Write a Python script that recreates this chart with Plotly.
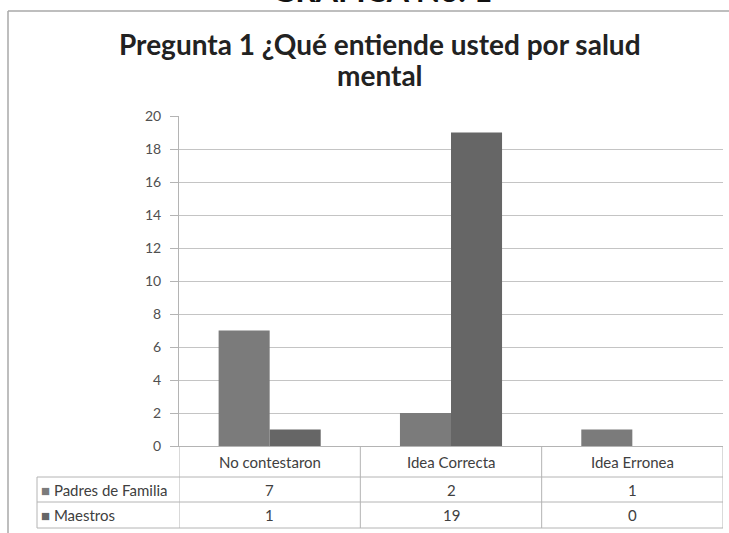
import plotly.graph_objects as go

# Survey answers, question 1
categorias = ["No contestaron", "Idea Correcta", "Idea Erronea"]
padres = [7, 2, 1]
maestros = [1, 19, 0]
series_nombres = ["Padres de Familia", "Maestros"]
y_ticks = list(range(0, 21, 2))
titulo = ["Pregunta 1 ¿Qué entiende usted por salud", "mental"]
encabezado = "GRAFICA No. 1"

color_padres = "#7b7b7b"
color_maestros = "#666666"
color_linea = "#b4b4b4"
color_texto = "#404040"
fuente = "Lato"

W, H = 729, 533
L, R, T, B = 179, 6, 116, 87
plot_h = H - T - B
plot_w = W - L - R


def py(px):
    """Pixel row -> paper y for elements drawn outside the plot area."""
    return (H - B - px) / plot_h


def px_x(px):
    return (px - L) / plot_w


fig = go.Figure()
fig.add_trace(go.Bar(x=categorias, y=padres, name=series_nombres[0],
                     marker=dict(color=color_padres, line=dict(width=0))))
fig.add_trace(go.Bar(x=categorias, y=maestros, name=series_nombres[1],
                     marker=dict(color=color_maestros, line=dict(width=0))))

shapes = []
annotations = []

# data table under the chart
row_edges = [446, 477, 502, 528]
left_edge = px_x(37)
n = len(categorias)
bounds = [i - 0.5 for i in range(n + 1)]

# horizontal rules of the table
for yy in row_edges[1:]:
    shapes.append(dict(type="line", xref="paper", yref="paper",
                       x0=left_edge, x1=1.0, y0=py(yy), y1=py(yy),
                       line=dict(color=color_linea, width=1)))
# vertical rules
for b in bounds:
    shapes.append(dict(type="line", xref="x", yref="paper",
                       x0=b, x1=b, y0=py(row_edges[0]), y1=py(row_edges[-1]),
                       line=dict(color=color_linea, width=1)))
shapes.append(dict(type="line", xref="paper", yref="paper",
                   x0=left_edge, x1=left_edge, y0=py(row_edges[1]), y1=py(row_edges[-1]),
                   line=dict(color=color_linea, width=1)))

# outer frame of the chart object (top and left edges are in view)
shapes.append(dict(type="line", xref="paper", yref="paper",
                   x0=px_x(8), x1=px_x(740), y0=py(11), y1=py(11),
                   line=dict(color="#a8a8a8", width=1.5), layer="below"))
shapes.append(dict(type="line", xref="paper", yref="paper",
                   x0=px_x(8), x1=px_x(8), y0=py(11), y1=py(540),
                   line=dict(color="#a8a8a8", width=1.5), layer="below"))

# header row: category names
for c in categorias:
    annotations.append(dict(x=c, xref="x", y=py((row_edges[0] + row_edges[1]) / 2), yref="paper",
                            text=c, showarrow=False, xanchor="center", yanchor="middle",
                            font=dict(family=fuente, size=15, color=color_texto)))

# value rows with their legend keys
for r, (nombre, vals, col) in enumerate(zip(series_nombres, [padres, maestros],
                                            [color_padres, color_maestros])):
    yc = py((row_edges[r + 1] + row_edges[r + 2]) / 2)
    annotations.append(dict(x=px_x(39), xref="paper", y=yc, yref="paper",
                            text=f"<span style='color:{col}'>■</span> {nombre}",
                            showarrow=False, xanchor="left", yanchor="middle",
                            font=dict(family=fuente, size=15, color=color_texto)))
    for c, v in zip(categorias, vals):
        annotations.append(dict(x=c, xref="x", y=yc, yref="paper", text=str(v),
                                showarrow=False, xanchor="center", yanchor="middle",
                                font=dict(family=fuente, size=15, color=color_texto)))

# page heading above the chart frame, running off the top edge
annotations.append(dict(x=px_x(382), xref="paper", y=py(-11), yref="paper",
                        text=f"<b>{encabezado}</b>", showarrow=False,
                        xanchor="center", yanchor="middle",
                        font=dict(family=fuente, size=32, color="#111111")))

# chart title, two lines
for linea, yy in zip(titulo, [44, 75]):
    annotations.append(dict(x=px_x(380), xref="paper", y=py(yy), yref="paper",
                            text=f"<b>{linea}</b>", showarrow=False,
                            xanchor="center", yanchor="middle",
                            font=dict(family=fuente, size=28, color="#222222")))

fig.update_layout(
    width=W, height=H,
    margin=dict(l=L, r=R, t=T, b=B, pad=0),
    paper_bgcolor="white", plot_bgcolor="white",
    barmode="group", bargap=0.437, bargroupgap=0,
    showlegend=False,
    shapes=shapes, annotations=annotations,
    font=dict(family=fuente, color=color_texto),
)
fig.update_xaxes(range=[-0.5, n - 0.5], showticklabels=False, ticks="",
                 showgrid=False, showline=True, linecolor=color_linea, linewidth=1,
                 zeroline=False, fixedrange=True)
fig.update_yaxes(range=[0, 20], tickvals=y_ticks, ticks="outside", ticklen=8,
                 tickcolor=color_linea, showgrid=True, gridcolor="#c4c4c4", gridwidth=1,
                 showline=True, linecolor=color_linea, linewidth=1, zeroline=False,
                 ticklabelstandoff=6,
                 tickfont=dict(family=fuente, size=14, color="#505050"))

fig.write_html("out.html")
